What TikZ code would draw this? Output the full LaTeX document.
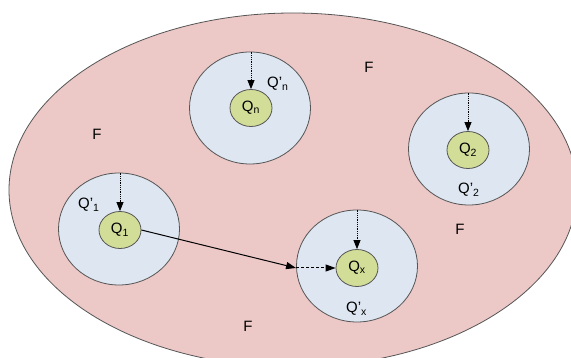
\documentclass[tikz,border=0pt]{standalone}
\usepackage{fontspec}
\setmainfont{Liberation Sans}
\usetikzlibrary{shapes.geometric,arrows.meta}
\definecolor{fpink}{RGB}{236,200,199}
\definecolor{qblue}{RGB}{221,230,241}
\definecolor{qgreen}{RGB}{210,221,152}
\definecolor{edge}{RGB}{85,85,85}
\tikzset{
  world/.style={ellipse,draw=edge,line width=0.8pt,fill=fpink,minimum width=568pt,minimum height=354pt,inner sep=0pt},
  outer/.style={ellipse,draw=edge,line width=0.8pt,fill=qblue,minimum width=121pt,minimum height=112pt,inner sep=0pt},
  inner/.style={ellipse,draw=edge,line width=0.8pt,fill=qgreen,minimum width=42pt,minimum height=37pt,inner sep=0pt,font=\fontsize{15}{17}\selectfont},
  lab/.style={font=\fontsize{15}{17}\selectfont,inner sep=0pt},
  dotarrow/.style={densely dotted,line width=0.8pt,-{Triangle[length=9pt,width=7pt]}},
  solidarrow/.style={line width=1pt,-{Triangle[length=10pt,width=7pt]}},
  dasharrow/.style={densely dashed,line width=1pt,-{Triangle[length=10pt,width=7pt]}},
}
\begin{document}
\begin{tikzpicture}[x=1pt,y=-1pt]
\useasboundingbox (0,0) rectangle (571,358);
\clip (0,0) rectangle (571,358);
\fill[white] (0,0) rectangle (571,358);
\node[world] (F) at (293,190) {};
% F labels
\node[lab] (f1) at (369,67) {F};
\node[lab] (f2) at (97,134) {F};
\node[lab] (f3) at (460,229) {F};
\node[lab] (f4) at (248,326) {F};
% Qn
\node[outer] (qno) at (250,108) {};
\node[inner] (qni) at (251,108) {Q\textsubscript{n}};
\node[lab,anchor=base west] (qnl) at (267,88) {Q'\textsubscript{n}};
% Q2
\node[outer] (q2o) at (469,149) {};
\node[inner] (q2i) at (468,150) {Q\textsubscript{2}};
\node[lab,anchor=base west] (q2l) at (458,194) {Q'\textsubscript{2}};
% Q1
\node[outer] (q1o) at (119,229) {};
\node[inner] (q1i) at (120,230) {Q\textsubscript{1}};
\node[lab,anchor=base west] (q1l) at (78,209) {Q'\textsubscript{1}};
% Qx
\node[outer] (qxo) at (357,266) {};
\node[inner] (qxi) at (357,268) {Q\textsubscript{x}};
\node[lab,anchor=base west] (qxl) at (346,313) {Q'\textsubscript{x}};
% vertical arrows
\draw[dotarrow] (qni |- qno.north) -- (qni.north);
\draw[dotarrow] (q2i |- q2o.north) -- (q2i.north);
\draw[dotarrow] (q1i |- q1o.north) -- (q1i.north);
\draw[dotarrow] (qxi |- qxo.north) -- (qxi.north);
% transfer
\coordinate (jx) at (qxo.west |- qxi);
\draw[solidarrow] (q1i.east) -- (jx);
\draw[dasharrow] (jx) -- (qxi.west);
\end{tikzpicture}
\end{document}
